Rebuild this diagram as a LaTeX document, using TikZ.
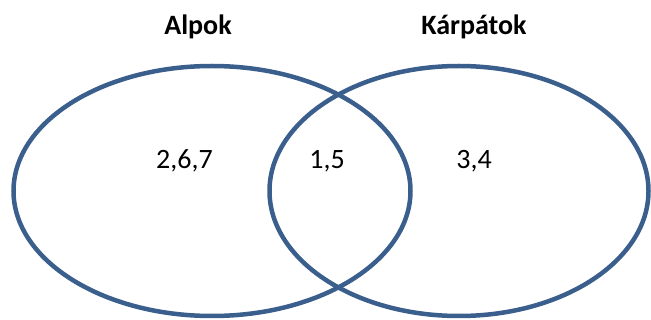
\documentclass[tikz,border=0pt]{standalone}
\usepackage{fontspec}
\setmainfont{Carlito}
\usetikzlibrary{shapes.geometric}
\definecolor{vennblue}{HTML}{3A5F8D}
\begin{document}
\begin{tikzpicture}[x=1pt,y=-1pt,
  setline/.style={draw=vennblue,line width=4.5pt},
  title/.style={font=\fontsize{28}{30}\selectfont\bfseries,anchor=base},
  elems/.style={font=\fontsize{28}{30}\selectfont,anchor=base}]
\useasboundingbox (0,0) rectangle (651,320);
\node[setline,ellipse,minimum width=397pt,minimum height=250pt,inner sep=0pt] (alpok) at (212,191) {};
\node[setline,ellipse,minimum width=379pt,minimum height=250pt,inner sep=0pt] (karp) at (459,191) {};
\node[title] (talp) at (198,35) {Alpok};
\node[title] (tkarp) at (474,35) {Kárpátok};
\node[elems] (a) at (184.5,169) {2,6,7};
\node[elems] (ab) at (327,169) {1,5};
\node[elems] (b) at (474,169) {3,4};
\end{tikzpicture}
\end{document}
